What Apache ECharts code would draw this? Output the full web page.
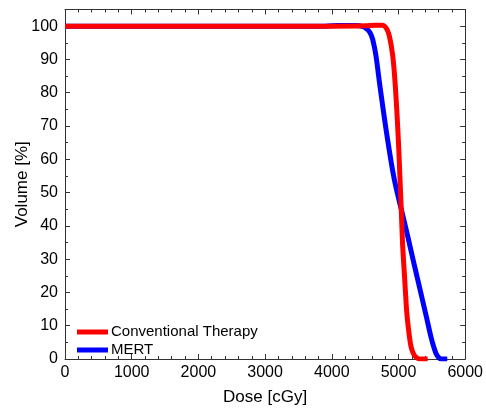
<!DOCTYPE html>
<html>
<head>
<meta charset="utf-8">
<script src="https://cdn.jsdelivr.net/npm/echarts@6/dist/echarts.min.js"></script>
<style>
  html, body { margin: 0; padding: 0; background: #fff; }
  #chart { width: 486px; height: 411px; }
</style>
</head>
<body>
<div id="chart"></div>
<script>
// Cumulative dose-volume histograms: [dose in cGy, volume in %]
const conventionalDvh = [
  [0, 100], [1000, 100], [2000, 100], [3000, 100], [4000, 100], [4500, 100.1],
  [4650, 100.3], [4760, 100.3], [4820, 99.3], [4863, 97], [4913, 91.2],
  [4948, 83.3], [4978, 73.5], [5003, 63.6], [5023, 53.8], [5043, 44],
  [5062, 34.1], [5092, 24.3], [5122, 14.5], [5152, 8.6], [5180, 4.5],
  [5202, 2.7], [5240, 1], [5287, 0.2], [5330, 0], [5437, 0]
];
const mertDvh = [
  [0, 100], [1000, 100], [2000, 100], [3000, 100], [3900, 100], [4100, 100.2],
  [4350, 100.2], [4480, 99.8], [4534, 99], [4575, 98], [4613, 96], [4663, 91],
  [4713, 83.3], [4763, 76], [4813, 69], [4863, 62.5], [4913, 56.5], [4963, 51.5],
  [5013, 47.3], [5062, 43.3], [5137, 37], [5212, 30.4], [5312, 21.8],
  [5412, 13.2], [5487, 6.6], [5530, 3.5], [5562, 1.7], [5600, 0.5], [5637, 0],
  [5731, 0]
];
const seriesNames = ['Conventional Therapy', 'MERT'];
const seriesColors = ['#ff0000', '#0000ff'];

const fontFamily = '"Liberation Sans", Arial, sans-serif';
const axisColor = '#333';

function boxAxis(extra) {
  return Object.assign({
    axisLine: { show: true, onZero: false, lineStyle: { color: axisColor, width: 1 } },
    axisTick: { show: true, inside: true, length: 5, lineStyle: { color: axisColor } },
    splitLine: { show: false },
    minorSplitLine: { show: false }
  }, extra);
}

const chart = echarts.init(document.getElementById('chart'), null, { renderer: 'canvas' });
chart.setOption({
  animation: false,
  backgroundColor: '#fff',
  grid: { left: 65, right: 20, top: 9.5, bottom: 47 },
  legend: {
    left: 72, top: 318, orient: 'vertical', itemGap: 0,
    itemWidth: 31, itemHeight: 5, icon: 'rect',
    textStyle: { fontFamily, fontSize: 15, lineHeight: 18, color: '#000', padding: [0, 0, 0, -2] },
    data: seriesNames
  },
  xAxis: [
    boxAxis({
      type: 'value', min: 0, max: 6000, interval: 1000, position: 'bottom',
      name: 'Dose [cGy]', nameLocation: 'middle', nameGap: 30, nameMoveOverlap: false,
      nameTextStyle: { fontFamily, fontSize: 17, color: '#000' },
      axisLabel: { fontFamily, fontSize: 16, color: '#000', margin: 6, formatter: v => String(v) },
      minorTick: { show: true, splitNumber: 5, length: 3, lineStyle: { color: axisColor } }
    }),
    boxAxis({
      type: 'value', min: 0, max: 6000, interval: 1000, position: 'top',
      axisLabel: { show: false },
      minorTick: { show: true, splitNumber: 5, length: 3, lineStyle: { color: axisColor } }
    })
  ],
  yAxis: [
    boxAxis({
      type: 'value', min: 0, max: 105, interval: 10, position: 'left',
      name: 'Volume [%]', nameLocation: 'middle', nameGap: 34, nameMoveOverlap: false,
      nameTextStyle: { fontFamily, fontSize: 17, color: '#000' },
      axisLabel: { fontFamily, fontSize: 16, color: '#000', margin: 7,
        formatter: v => (v % 10 === 0 && v <= 100) ? String(v) : '' },
      minorTick: { show: true, splitNumber: 2, length: 3, lineStyle: { color: axisColor } }
    }),
    boxAxis({
      type: 'value', min: 0, max: 105, interval: 10, position: 'right',
      axisLabel: { show: false },
      minorTick: { show: true, splitNumber: 2, length: 3, lineStyle: { color: axisColor } }
    })
  ],
  series: [
    {
      name: seriesNames[0], type: 'line', data: conventionalDvh,
      xAxisIndex: 0, yAxisIndex: 0, showSymbol: false, smooth: 0.25,
      color: seriesColors[0], lineStyle: { width: 5, color: seriesColors[0] }, z: 3
    },
    {
      name: seriesNames[1], type: 'line', data: mertDvh,
      xAxisIndex: 0, yAxisIndex: 0, showSymbol: false, smooth: 0.25,
      color: seriesColors[1], lineStyle: { width: 5, color: seriesColors[1] }, z: 2
    }
  ]
});
</script>
</body>
</html>
